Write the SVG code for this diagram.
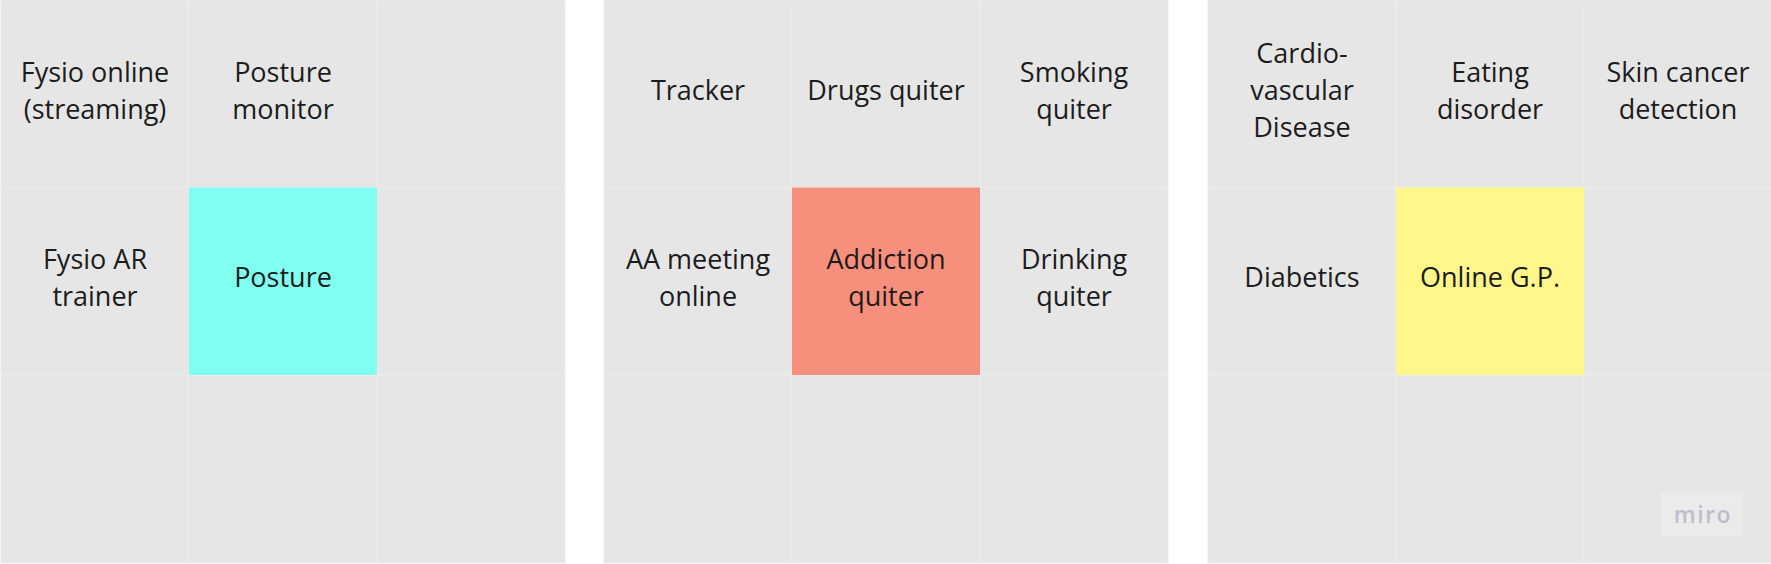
<svg xmlns="http://www.w3.org/2000/svg" width="1771" height="564" viewBox="0 0 1771 564">
<style>
.c{fill:#e6e6e6;stroke:#ececec;stroke-width:1}
.t{font-family:"Open Sans","Noto Sans",sans-serif;font-size:27px;fill:#1c1c1c;text-anchor:middle;dominant-baseline:central}
.m{font-family:"Open Sans","Noto Sans",sans-serif;font-size:23px;font-weight:600;fill:#bdbdcc;text-anchor:middle;dominant-baseline:central;letter-spacing:1.5px}
</style>
<rect width="1771" height="564" fill="#ffffff"/>
<g id="grid1">
<rect class="c" x="1" y="0" width="188" height="187.5"/>
<rect class="c" x="189" y="0" width="188" height="187.5"/>
<rect class="c" x="377" y="0" width="188" height="187.5"/>
<rect class="c" x="1" y="187.5" width="188" height="187.5"/>
<rect class="c" x="377" y="187.5" width="188" height="187.5"/>
<rect class="c" x="1" y="375" width="188" height="188"/>
<rect class="c" x="189" y="375" width="188" height="188"/>
<rect class="c" x="377" y="375" width="188" height="188"/>
</g>
<g id="grid2">
<rect class="c" x="604" y="0" width="188" height="187.5"/>
<rect class="c" x="792" y="0" width="188" height="187.5"/>
<rect class="c" x="980" y="0" width="188" height="187.5"/>
<rect class="c" x="604" y="187.5" width="188" height="187.5"/>
<rect class="c" x="980" y="187.5" width="188" height="187.5"/>
<rect class="c" x="604" y="375" width="188" height="188"/>
<rect class="c" x="792" y="375" width="188" height="188"/>
<rect class="c" x="980" y="375" width="188" height="188"/>
</g>
<g id="grid3">
<rect class="c" x="1208" y="0" width="188" height="187.5"/>
<rect class="c" x="1396" y="0" width="188" height="187.5"/>
<rect class="c" x="1584" y="0" width="188" height="187.5"/>
<rect class="c" x="1208" y="187.5" width="188" height="187.5"/>
<rect class="c" x="1584" y="187.5" width="188" height="187.5"/>
<rect class="c" x="1208" y="375" width="188" height="188"/>
<rect class="c" x="1396" y="375" width="188" height="188"/>
<rect class="c" x="1584" y="375" width="188" height="188"/>
</g>
<g id="fysio-online"><text class="t" x="95" y="71">Fysio online</text><text class="t" x="95" y="108">(streaming)</text></g>
<g id="posture-monitor"><text class="t" x="283" y="71">Posture</text><text class="t" x="283" y="108">monitor</text></g>
<g id="fysio-ar"><text class="t" x="95" y="258">Fysio AR</text><text class="t" x="95" y="295">trainer</text></g>
<g id="posture"><rect x="189" y="187.5" width="188" height="187.5" fill="#80fff0"/><text class="t" x="283" y="276.5">Posture</text></g>
<g id="tracker"><text class="t" x="698" y="89.5">Tracker</text></g>
<g id="drugs-quiter"><text class="t" x="886" y="89.5">Drugs quiter</text></g>
<g id="smoking-quiter"><text class="t" x="1074" y="71">Smoking</text><text class="t" x="1074" y="108">quiter</text></g>
<g id="aa-meeting"><text class="t" x="698" y="258">AA meeting</text><text class="t" x="698" y="295">online</text></g>
<g id="addiction-quiter"><rect x="792" y="187.5" width="188" height="187.5" fill="#f88f7c"/><text class="t" x="886" y="258">Addiction</text><text class="t" x="886" y="295">quiter</text></g>
<g id="drinking-quiter"><text class="t" x="1074" y="258">Drinking</text><text class="t" x="1074" y="295">quiter</text></g>
<g id="cardio"><text class="t" x="1302" y="52">Cardio-</text><text class="t" x="1302" y="89">vascular</text><text class="t" x="1302" y="126">Disease</text></g>
<g id="eating-disorder"><text class="t" x="1490" y="71">Eating</text><text class="t" x="1490" y="108">disorder</text></g>
<g id="skin-cancer"><text class="t" x="1678" y="71">Skin cancer</text><text class="t" x="1678" y="108">detection</text></g>
<g id="diabetics"><text class="t" x="1302" y="276.5">Diabetics</text></g>
<g id="online-gp"><rect x="1396" y="187.5" width="188" height="187.5" fill="#fff78a"/><text class="t" x="1490" y="276.5">Online G.P.</text></g>
<g id="connectors"></g>
<g id="miro-logo"><rect x="1661" y="493" width="82" height="43" fill="#ebebeb"/><text class="m" x="1703" y="514">miro</text></g>
</svg>
